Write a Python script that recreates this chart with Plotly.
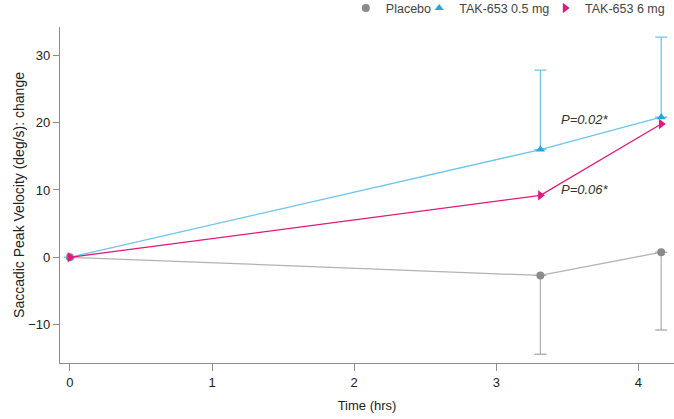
import plotly.graph_objects as go

time_hrs = [0, 3.31, 4.16]
placebo = [0, -2.7, 0.75]
placebo_err_minus = [0, 11.7, 11.55]
tak05 = [0, 16.0, 20.8]
tak05_err_plus = [0, 11.8, 11.9]
tak6 = [0, 9.2, 19.8]
x_ticks = [0, 1, 2, 3, 4]
y_ticks = [-10, 0, 10, 20, 30]
series_names = ["Placebo", "TAK-653 0.5 mg", "TAK-653 6 mg"]

grey_m = "#8a8a8a"
grey_l = "#b3b3b3"
blue_m = "#1fa8e0"
blue_l = "#6cc6ec"
pink = "#e5177b"

fig = go.Figure()
fig.add_trace(go.Scatter(
    x=time_hrs, y=placebo, name=series_names[0], mode="lines+markers", showlegend=False,
    line=dict(color=grey_l, width=1.3), cliponaxis=False,
    marker=dict(symbol="circle", size=8, color=grey_m),
    error_y=dict(type="data", symmetric=False, array=[0, 0, 0],
                 arrayminus=placebo_err_minus, color=grey_l, thickness=1.3, width=6),
))
fig.add_trace(go.Scatter(
    x=time_hrs, y=tak05, name=series_names[1], mode="lines+markers", showlegend=False,
    line=dict(color=blue_l, width=1.3), cliponaxis=False,
    marker=dict(symbol="triangle-up", size=8, color=blue_m),
    error_y=dict(type="data", symmetric=False, array=tak05_err_plus,
                 arrayminus=[0, 0, 0], color=blue_l, thickness=1.3, width=6),
))
fig.add_trace(go.Scatter(
    x=time_hrs, y=tak6, name=series_names[2], mode="lines+markers", showlegend=False,
    line=dict(color=pink, width=1.3), cliponaxis=False,
    marker=dict(symbol="triangle-right", size=9, color=pink),
))
# marker-only legend entries, each in its own legend for exact placement
legend_ids = ["legend", "legend2", "legend3"]
for nm, sym, col, sz, lg in zip(series_names, ["circle", "triangle-up", "triangle-right"],
                                [grey_m, blue_m, pink], [8, 8, 9], legend_ids):
    fig.add_trace(go.Scatter(x=[None], y=[None], mode="markers", name=nm, legend=lg,
                             marker=dict(symbol=sym, size=sz, color=col)))

fig.add_annotation(x=3.44, y=20.5, text="<i>P=0.02*</i>", showarrow=False,
                   xanchor="left", font=dict(size=13, color="#333333"))
fig.add_annotation(x=3.44, y=10.0, text="<i>P=0.06*</i>", showarrow=False,
                   xanchor="left", font=dict(size=13, color="#333333"))

leg_common = dict(orientation="h", xanchor="left", y=1.1, yanchor="top",
                  font=dict(size=12.5, color="#444444"), itemwidth=30,
                  bgcolor="rgba(0,0,0,0)")

fig.update_layout(
    width=674, height=419,
    margin=dict(l=60, r=0, t=27, b=56, autoexpand=False),
    paper_bgcolor="white", plot_bgcolor="white",
    font=dict(family="Liberation Sans, Arial, sans-serif", size=13, color="#222222"),
    showlegend=True,
    legend=dict(x=0.4655, **leg_common),
    legend2=dict(x=0.585, **leg_common),
    legend3=dict(x=0.790, **leg_common),
    xaxis=dict(range=[-0.07, 4.25], tickvals=x_ticks, showgrid=False, zeroline=False,
               showline=True, linecolor="#8c8c8c", linewidth=1.3, automargin=False,
               ticks="outside", ticklen=7, tickcolor="#8c8c8c",
               title=dict(text="Time (hrs)", standoff=12, font=dict(size=13))),
    yaxis=dict(range=[-15.7, 34.2], tickvals=y_ticks, showgrid=False, zeroline=False,
               showline=True, linecolor="#8c8c8c", linewidth=1.3, automargin=False,
               ticks="outside", ticklen=6, tickcolor="#8c8c8c",
               title=dict(text="Saccadic Peak Velocity (deg/s): change", standoff=0,
                          font=dict(size=14))),
)

fig.write_html("out.html", config={"displayModeBar": False},
               post_script="document.body.style.margin='0';document.body.style.overflow='hidden';")
